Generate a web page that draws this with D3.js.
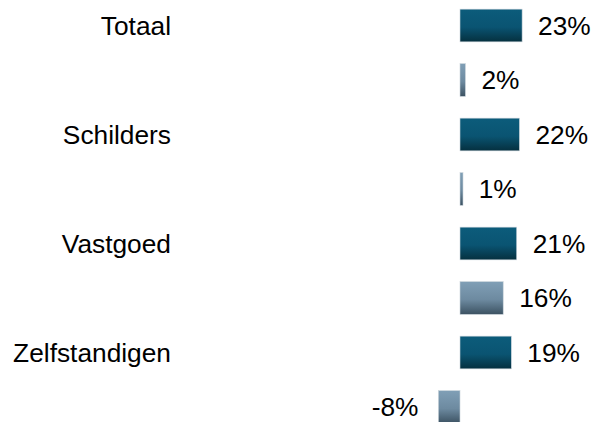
<!DOCTYPE html>
<html>
<head>
<meta charset="utf-8">
<script src="https://cdn.jsdelivr.net/npm/d3@7"></script>
<style>
  body { margin: 0; background: #fff; }
  svg text { font-family: "Liberation Sans", Arial, sans-serif; fill: #000; }
</style>
</head>
<body>
<div id="chart"></div>
<script>
// Data
const CATEGORIES = ['Totaal', 'Schilders', 'Vastgoed', 'Zelfstandigen']
const SERIES_A = [23, 22, 21, 19]   // dark bars
const SERIES_B = [2, 1, 16, -8]     // grey bars

const WIDTH = 593
const HEIGHT = 422
const FONT = '26.3px'

// one row per bar, two rows per category
var rows = []
CATEGORIES.forEach((c, i) => {
    rows.push({ key: c + '_a', cat: c, value: SERIES_A[i], kind: 'a' })
    rows.push({ key: c + '_b', cat: c, value: SERIES_B[i], kind: 'b' })
})

var svg = d3.select('#chart').append('svg')
    .attr('width', WIDTH)
    .attr('height', HEIGHT)

// gradients
var defs = svg.append('defs')
var gA = defs.append('linearGradient').attr('id', 'gradA')
    .attr('x1', 0).attr('y1', 0).attr('x2', 0).attr('y2', 1)
gA.append('stop').attr('offset', '0%').attr('stop-color', '#0c5c7b')
gA.append('stop').attr('offset', '55%').attr('stop-color', '#0a5472')
gA.append('stop').attr('offset', '100%').attr('stop-color', '#05303f')
var gB = defs.append('linearGradient').attr('id', 'gradB')
    .attr('x1', 0).attr('y1', 0).attr('x2', 0).attr('y2', 1)
gB.append('stop').attr('offset', '0%').attr('stop-color', '#809fb6')
gB.append('stop').attr('offset', '55%').attr('stop-color', '#6d8aa0')
gB.append('stop').attr('offset', '100%').attr('stop-color', '#3c5262')

// scales
var x = d3.scaleLinear()
    .domain([-8, 23])
    .range([460 - 8 * 2.7, 460 + 23 * 2.7])

var y = d3.scaleBand()
    .domain(rows.map(d => d.key))
    .range([-1.75, 434.25])
    .paddingInner(0.4)
    .paddingOuter(0.2)

// bars
svg.append('g').selectAll('rect').data(rows).enter()
    .append('rect')
    .attr('x', d => x(Math.min(0, d.value)))
    .attr('y', d => y(d.key))
    .attr('width', d => Math.max(3, Math.abs(x(d.value) - x(0))))
    .attr('height', y.bandwidth())
    .attr('fill', d => d.kind == 'a' ? 'url(#gradA)' : 'url(#gradB)')
    .attr('stroke', '#c9d3da')
    .attr('stroke-width', 0.6)

// value labels
svg.append('g').selectAll('text').data(rows).enter()
    .append('text')
    .attr('x', d => d.value >= 0 ? x(d.value) + 16 : x(d.value) - 20)
    .attr('y', d => y(d.key) + y.bandwidth() / 2)
    .attr('dy', '0.36em')
    .attr('text-anchor', d => d.value >= 0 ? 'start' : 'end')
    .style('font-size', FONT)
    .text(d => d.value + '%')

// category labels
var catY = c => (y(c + '_a') + y.bandwidth() / 2)
svg.append('g').selectAll('text').data(CATEGORIES).enter()
    .append('text')
    .attr('x', 171)
    .attr('y', d => catY(d))
    .attr('dy', '0.36em')
    .attr('text-anchor', 'end')
    .style('font-size', FONT)
    .text(d => d)
</script>
</body>
</html>
